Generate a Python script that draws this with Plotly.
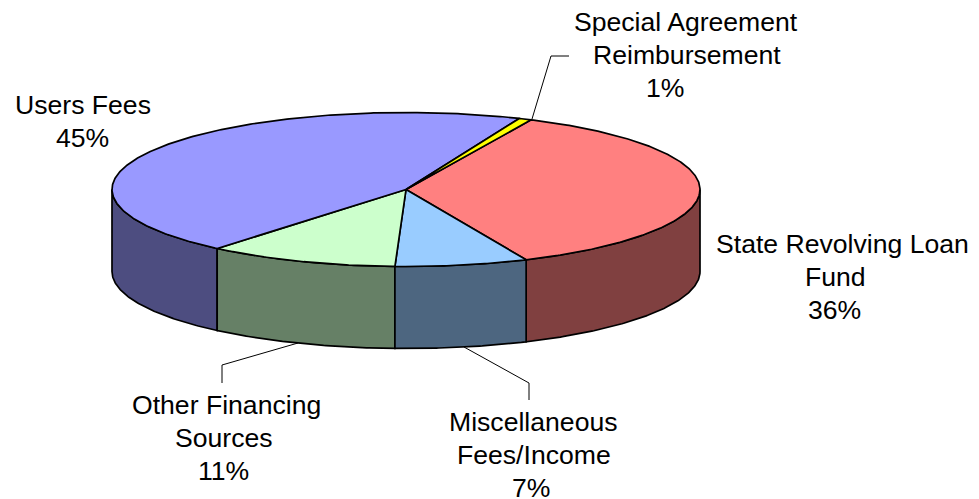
import numpy as np
import plotly.graph_objects as go

# Data, in the order drawn clockwise from the start angle
categories = ["State Revolving Loan Fund", "Miscellaneous Fees/Income",
              "Other Financing Sources", "Users Fees", "Special Agreement Reimbursement"]
values = [36.3, 7.3, 10.5, 45.2, 0.7]

top_colors = ["#FF8080", "#99CCFF", "#CCFFCC", "#9999FF", "#FFFF00"]
side_colors = ["#804040", "#4D6680", "#668066", "#4D4D80", "#808000"]

label_lines = [
    ["State Revolving Loan", "Fund", "36%"],
    ["Miscellaneous", "Fees/Income", "7%"],
    ["Other Financing", "Sources", "11%"],
    ["Users Fees", "45%"],
    ["Special Agreement", "Reimbursement", "1%"],
]
label_x = [
    [842, 835.5, 834],
    [533, 534, 531],
    [226, 223.5, 223],
    [82.5, 82],
    [686, 686.5, 665],
]
label_y = [244, 422, 405, 105, 22]
line_step = 33
leaders = [
    None,
    ([464, 529, 529], [347, 383, 400]),
    ([298, 222, 222], [343, 365, 383]),
    None,
    ([532, 551, 569], [119, 56, 56]),
]

# Pie geometry (pixels on a 979x499 canvas)
W, H = 979, 499
CX, CY, RX, RY, DEPTH = 406, 189.5, 294, 77, 82
START_DEG = -64.8
EDGE = 1.7
FONT = dict(family="Liberation Sans, Arial, sans-serif", size=26.6, color="#000000")


def arc(a, b, dy=0.0):
    n = max(2, int(abs(b - a) * 2) + 1)
    t = np.radians(np.linspace(a, b, n))
    return CX + RX * np.cos(t), CY + RY * np.sin(t) + dy


def poly(x, y, color):
    return go.Scatter(
        x=np.append(x, x[0]), y=np.append(y, y[0]), mode="lines", fill="toself",
        fillcolor=color, line=dict(color="#000000", width=EDGE, shape="linear"),
        hoverinfo="skip", showlegend=False,
    )


sweeps = np.array(values) / sum(values) * 360
ends = START_DEG + np.cumsum(sweeps)
starts = ends - sweeps

fig = go.Figure()

# Visible wall: only the part of each slice between 0 and 180 degrees
order = sorted(range(len(values)), key=lambda i: abs(90 - (starts[i] + ends[i]) / 2), reverse=True)
for i in order:
    a, b = max(starts[i], 0), min(ends[i], 180)
    if b <= a:
        continue
    xt, yt = arc(a, b)
    xb, yb = arc(b, a, DEPTH)
    fig.add_trace(poly(np.concatenate([xt, xb]), np.concatenate([yt, yb]), side_colors[i]))

# Top faces
for i in range(len(values)):
    xa, ya = arc(starts[i], ends[i])
    fig.add_trace(poly(np.concatenate([[CX], xa]), np.concatenate([[CY], ya]), top_colors[i]))

# Leader lines
for lead in leaders:
    if lead:
        fig.add_trace(go.Scatter(x=lead[0], y=lead[1], mode="lines",
                                 line=dict(color="#000000", width=1),
                                 hoverinfo="skip", showlegend=False))

# Labels
annotations = []
for lines, xs, ly in zip(label_lines, label_x, label_y):
    for k, (txt, lx) in enumerate(zip(lines, xs)):
        annotations.append(dict(x=lx, y=ly + k * line_step, text=txt, xref="x", yref="y",
                                showarrow=False, xanchor="center", yanchor="middle", font=FONT))

fig.update_layout(
    width=W, height=H, margin=dict(l=0, r=0, t=0, b=0),
    paper_bgcolor="#FFFFFF", plot_bgcolor="#FFFFFF", showlegend=False,
    xaxis=dict(range=[0, W], visible=False, fixedrange=True),
    yaxis=dict(range=[H, 0], visible=False, fixedrange=True),
    annotations=annotations,
)
fig.write_html("out.html", config=dict(displayModeBar=False),
               post_script="document.body.style.margin='0';document.body.style.overflow='hidden';")
